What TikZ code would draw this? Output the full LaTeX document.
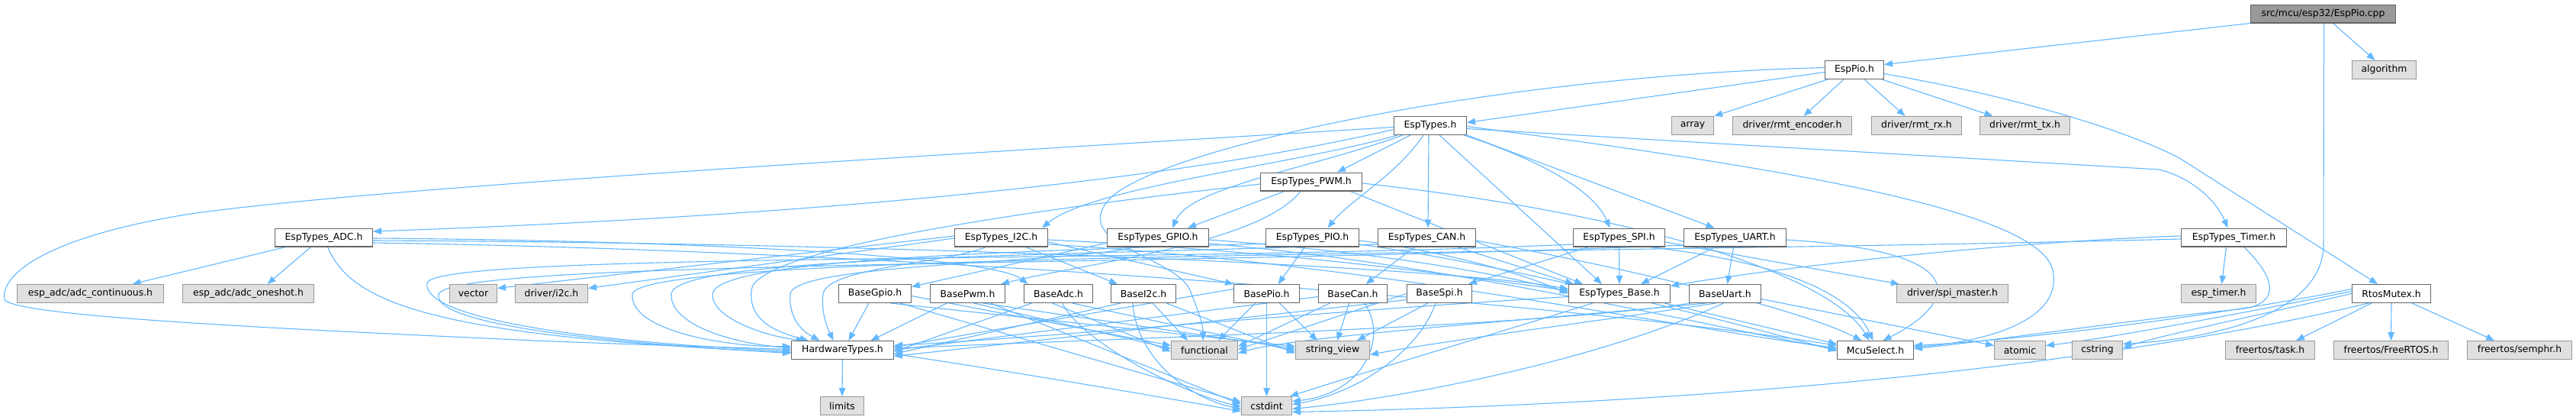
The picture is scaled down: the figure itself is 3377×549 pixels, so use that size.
\documentclass[tikz,border=0pt]{standalone}
\usepackage{fontspec}
\setmainfont{DejaVu Sans}
\usetikzlibrary{arrows.meta,calc}
\definecolor{edgeblue}{HTML}{63B8FF}
\definecolor{boxdark}{HTML}{666666}
\definecolor{sysborder}{HTML}{999999}
\definecolor{sysfill}{HTML}{E0E0E0}
\definecolor{rootfill}{HTML}{999999}
\pgfdeclarelayer{edgelayer}
\pgfsetlayers{edgelayer,main}
\newcommand\nd[6]{\node[#1,minimum width={(#3)-(#2)-1.4}] (#5) at ({((#2)+(#3))/2},#4) {#6};}
\begin{document}
\begin{tikzpicture}[x=1pt,y=-1pt,
  box/.style={draw=boxdark,line width=1.4pt,fill=white,minimum height=23.6pt,inner sep=0pt,
    font=\fontsize{12.4}{14}\selectfont},
  sysbox/.style={box,draw=sysborder,fill=sysfill},
  rootbox/.style={box,draw=boxdark,fill=rootfill},
  e/.style={draw=edgeblue,line width=1.1pt,-{Triangle[length=11pt,width=8.5pt]},fill=none}]
\useasboundingbox (0,0) rectangle (3377,549);
% ---------- nodes ----------
\nd{rootbox}{2950}{3141}{18}{cpp}{src/mcu/esp32/EspPio.cpp}
\nd{box}{2392}{2470}{91.5}{pioh}{EspPio.h}
\nd{sysbox}{3083}{3168}{91.5}{algo}{algorithm}
\nd{box}{1827}{1923}{164.5}{types}{EspTypes.h}
\nd{sysbox}{2191}{2247}{164.5}{arr}{array}
\nd{sysbox}{2271}{2428}{164.5}{enc}{driver/rmt\_encoder.h}
\nd{sysbox}{2453}{2572}{164.5}{rx}{driver/rmt\_rx.h}
\nd{sysbox}{2595}{2714}{164.5}{tx}{driver/rmt\_tx.h}
\nd{box}{1652}{1786}{238}{pwm}{EspTypes\_PWM.h}
\nd{box}{360}{489}{311}{adc}{EspTypes\_ADC.h}
\nd{box}{1251}{1374}{311}{i2c}{EspTypes\_I2C.h}
\nd{box}{1451}{1585}{311}{gpio}{EspTypes\_GPIO.h}
\nd{box}{1659}{1782}{311}{pio}{EspTypes\_PIO.h}
\nd{box}{1806}{1935}{311}{can}{EspTypes\_CAN.h}
\nd{box}{2062}{2183}{311}{spi}{EspTypes\_SPI.h}
\nd{box}{2207}{2342}{311}{uart}{EspTypes\_UART.h}
\nd{box}{2859}{2998}{311}{timer}{EspTypes\_Timer.h}
\nd{sysbox}{22}{215}{384.5}{adccont}{esp\_adc/adc\_continuous.h}
\nd{sysbox}{239}{412}{384.5}{adcone}{esp\_adc/adc\_oneshot.h}
\nd{sysbox}{589}{652}{384.5}{vec}{vector}
\nd{sysbox}{675}{771}{384.5}{di2c}{driver/i2c.h}
\nd{box}{1099}{1195}{384.5}{bgpio}{BaseGpio.h}
\nd{box}{1219}{1318}{384.5}{bpwm}{BasePwm.h}
\nd{box}{1342}{1433}{384.5}{badc}{BaseAdc.h}
\nd{box}{1456}{1542}{384.5}{bi2c}{BaseI2c.h}
\nd{box}{1617}{1704}{384.5}{bpio}{BasePio.h}
\nd{box}{1728}{1819}{384.5}{bcan}{BaseCan.h}
\nd{box}{1844}{1930}{384.5}{bspi}{BaseSpi.h}
\nd{box}{2056}{2190}{384.5}{tbase}{EspTypes\_Base.h}
\nd{box}{2214}{2309}{384.5}{buart}{BaseUart.h}
\nd{sysbox}{2486}{2633}{384.5}{spim}{driver/spi\_master.h}
\nd{sysbox}{2859}{2958}{384.5}{esptimer}{esp\_timer.h}
\nd{box}{3083}{3187}{384.5}{mutex}{RtosMutex.h}
\nd{box}{1037}{1172}{458.5}{hwt}{HardwareTypes.h}
\nd{sysbox}{1535}{1623}{458.5}{func}{functional}
\nd{sysbox}{1698}{1796}{458.5}{sv}{string\_view}
\nd{box}{2408}{2509}{458.5}{mcu}{McuSelect.h}
\nd{sysbox}{2614}{2682}{458.5}{atomic}{atomic}
\nd{sysbox}{2716}{2783}{458.5}{cstring}{cstring}
\nd{sysbox}{2917}{3035}{458.5}{frtask}{freertos/task.h}
\nd{sysbox}{3059}{3210}{458.5}{frrtos}{freertos/FreeRTOS.h}
\nd{sysbox}{3234}{3372}{458.5}{frsem}{freertos/semphr.h}
\nd{sysbox}{1075}{1133}{531.5}{limits}{limits}
\nd{sysbox}{1627}{1694}{531.5}{cstdint}{cstdint}
% ---------- edges ----------
\begin{pgfonlayer}{edgelayer}
\fill[white] (0,0) rectangle (3377,549);
% root
\draw[e] (cpp.south west) -- ([yshift=7pt]pioh.east);
\draw[e] ([xshift=13pt]cpp.south) -- ([xshift=-12pt]algo.north);
\draw[e] ([xshift=1pt]cpp.south) -- (3046,320) .. controls (3046,405) and (2920,442) .. ([yshift=8pt]cstring.east);
% EspPio.h
\draw[e] ([yshift=-3pt]pioh.west) -- ([yshift=4pt]types.east);
\draw[e] ([xshift=4pt]pioh.south west) -- (arr.north east);
\draw[e] ([xshift=-14pt]pioh.south) -- ([xshift=15pt]enc.north);
\draw[e] ([xshift=13pt]pioh.south) -- ([xshift=-15pt]rx.north);
\draw[e] ([xshift=-3pt]pioh.south east) -- ([xshift=-42pt]tx.north);
\draw[e] ([yshift=-5pt]pioh.east) .. controls (2650,128) and (2790,172) .. (2857,207) -- ([xshift=-18pt]mutex.north);
\draw[e] ([yshift=3pt]pioh.west) .. controls (1950,100) and (1520,195) .. (1455,260) .. controls (1400,320) and (1540,335) .. (1560,380) .. controls (1572,410) and (1577,425) .. ([xshift=-2pt]func.north);
% EspTypes.h
\draw[e] ([yshift=-2pt]types.west) .. controls (1200,205) and (500,245) .. (250,280) .. controls (60,310) and (0,360) .. (6,392) .. controls (15,415) and (400,432) .. (700,446) .. controls (850,452) and (960,455) .. ([yshift=1pt]hwt.west);
\draw[e] ([yshift=-5pt]types.west) .. controls (1500,245) and (1000,285) .. ([yshift=8pt]adc.east);
\draw[e] ([xshift=-26pt]types.south) -- ([xshift=34pt]pwm.north);
\draw[e] ([xshift=5pt]types.south west) .. controls (1700,215) and (1430,245) .. ([xshift=-8pt]i2c.north east);
\draw[e] ([xshift=12pt]types.south west) .. controls (1720,220) and (1560,245) .. ([xshift=19pt]gpio.north);
\draw[e] ([xshift=-9pt]types.south) .. controls (1830,230) and (1770,262) .. ([xshift=20pt]pio.north);
\draw[e] ([xshift=-2pt]types.south) -- ([xshift=1.5pt]can.north);
\draw[e] ([xshift=-4pt]types.south east) .. controls (2020,210) and (2090,250) .. ([xshift=-12pt]spi.north);
\draw[e] (types.south east) -- ([xshift=-27pt]uart.north);
\draw[e] ([xshift=12pt]types.south) -- ([xshift=-23pt]tbase.north);
\draw[e] ([yshift=-4pt]types.east) -- (2830,222) .. controls (2872,232) and (2905,262) .. ([xshift=-8pt]timer.north);
\draw[e] ([yshift=-1pt]types.east) .. controls (2300,215) and (2660,270) .. (2690,350) .. controls (2710,420) and (2600,448) .. ([yshift=4pt]mcu.east);
% EspTypes_PWM.h
\draw[e] ([xshift=-35pt]pwm.south) -- ([xshift=39pt]gpio.north);
\draw[e] ([xshift=-14pt]pwm.south) .. controls (1650,320) and (1420,345) .. ([xshift=-6pt]bpwm.north east);
\draw[e] ([xshift=51pt]pwm.south) -- ([xshift=-48pt]tbase.north);
\draw[e] ([yshift=-2pt]pwm.east) .. controls (2150,280) and (2400,360) .. ([xshift=-8pt]mcu.north);
\draw[e] ([yshift=-3pt]pwm.west) .. controls (1300,280) and (990,330) .. (985,380) .. controls (982,410) and (1000,430) .. ([xshift=-45pt]hwt.north);
% EspTypes_ADC.h
\draw[e] ([xshift=-50pt]adc.south) -- ([xshift=55pt]adccont.north);
\draw[e] ([xshift=-17pt]adc.south) -- ([xshift=25pt]adcone.north);
\draw[e] ([xshift=5pt]adc.south) .. controls (460,395) and (560,440) .. ([yshift=-3pt]hwt.west);
\draw[e] ([yshift=-4pt]adc.east) .. controls (1200,318) and (1900,350) .. ([yshift=6pt]tbase.west);
\draw[e] ([yshift=-7pt]adc.east) .. controls (1300,330) and (2150,410) .. ([yshift=6pt]mcu.west);
\draw[e] ([yshift=-1pt]adc.east) .. controls (900,315) and (1300,335) .. ([xshift=-40pt]badc.north);
% EspTypes_I2C.h
\draw[e] ([yshift=2pt]i2c.west) -- ([yshift=7pt]vec.east);
\draw[e] ([yshift=-1pt]i2c.west) -- ([yshift=7pt]di2c.east);
\draw[e] ([xshift=32pt]i2c.south) -- ([xshift=-34pt]bi2c.north);
\draw[e] ([yshift=-6pt]i2c.east) -- (bpio.north west);
\draw[e] ([xshift=-20pt]i2c.south) .. controls (1240,345) and (1085,350) .. (1079,385) .. controls (1076,410) and (1085,430) .. ([xshift=-12pt]hwt.north);
\draw[e] ([yshift=-3pt]i2c.east) .. controls (1700,330) and (1900,360) .. ([yshift=4pt]tbase.west);
\draw[e] ([yshift=-9pt]i2c.east) .. controls (1800,345) and (2200,430) .. ([yshift=3pt]mcu.west);
% EspTypes_GPIO.h
\draw[e] ([yshift=-7pt]gpio.west) -- ([yshift=9pt]bgpio.east);
\draw[e] ([xshift=-30pt]gpio.south) .. controls (1400,345) and (1040,345) .. (1036,385) .. controls (1034,410) and (1045,430) .. ([xshift=-30pt]hwt.north);
\draw[e] ([yshift=-3pt]gpio.east) .. controls (1800,330) and (1950,355) .. ([yshift=2pt]tbase.west);
\draw[e] ([yshift=-8pt]gpio.east) .. controls (1900,345) and (2250,430) .. ([yshift=1pt]mcu.west);
% EspTypes_PIO.h
\draw[e] ([xshift=-10pt]pio.south) -- ([xshift=15pt]bpio.north);
\draw[e] ([yshift=-8pt]pio.west) .. controls (1300,330) and (940,340) .. (934,385) .. controls (932,415) and (1000,440) .. ([xshift=18pt]hwt.north west);
\draw[e] ([yshift=-4pt]pio.east) .. controls (1900,330) and (2000,360) .. (tbase.west);
\draw[e] ([yshift=-9pt]pio.east) .. controls (2000,350) and (2300,430) .. ([yshift=-1pt]mcu.west);
% EspTypes_CAN.h
\draw[e] ([xshift=-16pt]can.south) -- ([xshift=17pt]bcan.north);
\draw[e] ([yshift=-9pt]can.west) .. controls (1400,335) and (885,335) .. (880,385) .. controls (878,425) and (960,450) .. ([yshift=3pt]hwt.west);
\draw[e] ([xshift=40pt]can.south) -- ([xshift=-60pt]tbase.north);
\draw[e] ([yshift=-4pt]can.east) .. controls (2100,345) and (2350,400) .. ([xshift=-18pt]mcu.north);
% EspTypes_SPI.h
\draw[e] (spi.south) -- (tbase.north);
\draw[e] ([xshift=-40pt]spi.south) -- ([xshift=-5pt]bspi.north east);
\draw[e] ([yshift=-6pt]spi.east) -- ([xshift=4pt]spim.north west);
\draw[e] ([yshift=-9pt]spi.west) .. controls (1500,345) and (580,330) .. (560,370) .. controls (550,420) and (800,450) .. ([yshift=-1pt]hwt.west);
\draw[e] ([xshift=40pt]spi.south) .. controls (2350,345) and (2430,390) .. ([xshift=-3pt]mcu.north);
% EspTypes_UART.h
\draw[e] ([xshift=-26pt]uart.south) -- ([xshift=28pt]tbase.north);
\draw[e] ([xshift=-2pt]uart.south) -- ([xshift=3pt]buart.north);
\draw[e] ([yshift=-10pt]uart.west) .. controls (1500,350) and (595,340) .. (575,385) .. controls (565,430) and (850,452) .. ([yshift=-4pt]hwt.west);
\draw[e] ([yshift=-3pt]uart.east) .. controls (2600,330) and (2560,400) .. ([xshift=10pt]mcu.north);
% EspTypes_Timer.h
\draw[e] ([xshift=-10pt]timer.south) -- ([xshift=4pt]esptimer.north);
\draw[e] ([yshift=2pt]timer.west) .. controls (2600,318) and (2300,355) .. ([yshift=10pt]tbase.east);
\draw[e] ([xshift=13pt]timer.south) .. controls (2990,370) and (2985,400) .. (2935,405) .. controls (2800,418) and (2600,448) .. ([yshift=2pt]mcu.east);
\draw[e] ([yshift=-2pt]timer.west) .. controls (2000,335) and (840,330) .. (829,385) .. controls (825,435) and (960,455) .. ([yshift=5pt]hwt.west);
% EspTypes_Base.h
\draw[e] ([xshift=-8pt]tbase.south east) -- ([yshift=8pt]mcu.west);
\draw[e] ([xshift=-35pt]tbase.south) .. controls (1950,440) and (1780,490) .. ([xshift=-3pt]cstdint.north east);
\draw[e] ([yshift=-4pt]tbase.west) .. controls (1700,410) and (1400,440) .. ([yshift=6pt]hwt.east);
% BaseUart.h
\draw[e] ([yshift=-7pt]buart.east) -- ([yshift=6pt]atomic.west);
\draw[e] ([xshift=-45pt]buart.south) .. controls (2000,430) and (1400,445) .. ([yshift=2pt]hwt.east);
\draw[e] ([xshift=-25pt]buart.south) .. controls (2000,420) and (1700,440) .. ([yshift=-4pt]func.east);
\draw[e] ([xshift=-12pt]buart.south) .. controls (2100,420) and (1900,445) .. ([yshift=-6pt]sv.east);
\draw[e] ([xshift=-2pt]buart.south) .. controls (2100,470) and (1850,520) .. ([yshift=-4pt]cstdint.east);
% BaseGpio.h
\draw[e] ([xshift=-8pt]bgpio.south) -- ([xshift=8pt]hwt.north);
\draw[e] ([yshift=-3pt]bgpio.east) -- ([yshift=6pt]func.west);
\draw[e] ([xshift=20pt]bgpio.south) -- ([yshift=5pt]sv.west);
\draw[e] ([xshift=33pt]bgpio.south) -- ([yshift=5pt]cstdint.west);
% BasePwm.h
\draw[e] ([xshift=-27pt]bpwm.south) -- ([xshift=37pt]hwt.north);
\draw[e] ([xshift=8pt]bpwm.south) -- ([yshift=2pt]func.west);
\draw[e] ([xshift=20pt]bpwm.south) -- ([yshift=2pt]sv.west);
\draw[e] ([xshift=30pt]bpwm.south) -- ([yshift=2pt]cstdint.west);
% BaseAdc.h
\draw[e] ([xshift=-35pt]badc.south) -- ([yshift=-2pt]hwt.east);
\draw[e] ([xshift=-8pt]badc.south) -- ([yshift=-2pt]func.west);
\draw[e] ([xshift=18pt]badc.south) -- ([yshift=-1pt]sv.west);
\draw[e] ([xshift=5pt]badc.south) .. controls (1420,450) and (1550,515) .. ([yshift=-1pt]cstdint.west);
% BaseI2c.h
\draw[e] ([xshift=-30pt]bi2c.south) -- ([yshift=-5pt]hwt.east);
\draw[e] ([xshift=12pt]bi2c.south) -- ([xshift=-22pt]func.north);
\draw[e] ([xshift=30pt]bi2c.south) -- ([yshift=-4pt]sv.west);
\draw[e] ([xshift=-14pt]bi2c.south) .. controls (1490,470) and (1560,522) .. ([yshift=-4pt]cstdint.west);
% BasePio.h
\draw[e] ([yshift=6pt]bpio.west) -- ([yshift=4pt]hwt.east);
\draw[e] ([xshift=-15pt]bpio.south) -- ([xshift=18pt]func.north);
\draw[e] ([xshift=17pt]bpio.south) -- ([xshift=-20pt]sv.north);
\draw[e] (bpio.south) -- (cstdint.north);
% BaseCan.h
\draw[e] ([yshift=-4pt]bcan.west) -- (hwt.east);
\draw[e] ([xshift=-30pt]bcan.south) -- ([yshift=5pt]func.east);
\draw[e] ([xshift=-5pt]bcan.south) -- ([xshift=6pt]sv.north);
\draw[e] ([xshift=15pt]bcan.south) .. controls (1820,440) and (1790,515) .. ([yshift=6pt]cstdint.east);
% BaseSpi.h
\draw[e] ([yshift=-8pt]bspi.west) -- ([yshift=-8pt]hwt.east);
\draw[e] (bspi.west) -- ([yshift=1pt]func.east);
\draw[e] ([xshift=-15pt]bspi.south) -- ([xshift=32pt]sv.north);
\draw[e] ([xshift=-5pt]bspi.south) .. controls (1860,460) and (1780,515) .. ([yshift=2pt]cstdint.east);
% HardwareTypes.h
\draw[e] (hwt.south) -- (limits.north);
\draw[e] ([yshift=-5pt]hwt.east) .. controls (1350,490) and (1550,525) .. ([yshift=-7pt]cstdint.west);
% RtosMutex.h
\draw[e] ([xshift=-26pt]mutex.south) -- ([xshift=34pt]frtask.north);
\draw[e] (mutex.south) -- (frrtos.north);
\draw[e] ([xshift=27pt]mutex.south) -- ([xshift=-33pt]frsem.north);
\draw[e] ([yshift=6pt]mutex.west) .. controls (2900,415) and (2650,445) .. ([yshift=6pt]mcu.east);
\draw[e] ([yshift=3pt]mutex.west) .. controls (2900,418) and (2750,445) .. ([yshift=6pt]atomic.east);
\draw[e] (mutex.west) .. controls (2950,415) and (2830,440) .. ([yshift=3pt]cstring.east);
\draw[e] ([xshift=-30pt]mutex.south) .. controls (2800,470) and (2300,528) .. ([yshift=-8pt]cstdint.east);
\end{pgfonlayer}
\end{tikzpicture}
\end{document}
